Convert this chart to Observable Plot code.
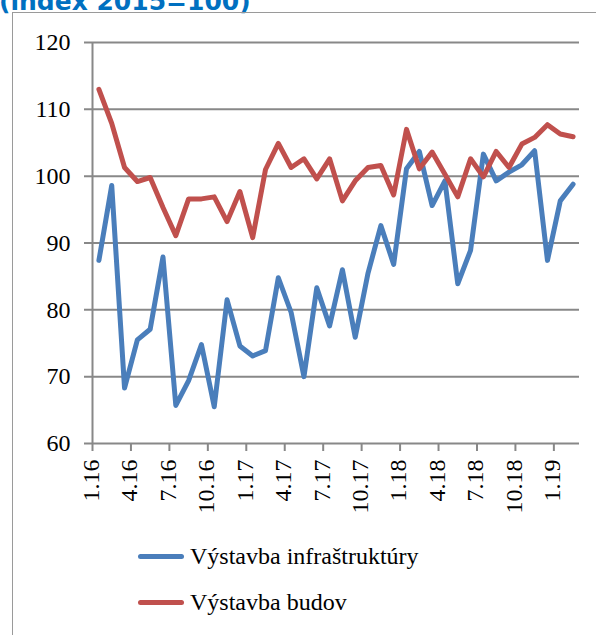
<!DOCTYPE html>
<html>
<head>
<meta charset="utf-8">
<script src="https://cdn.jsdelivr.net/npm/d3@7"></script>
<script src="https://cdn.jsdelivr.net/npm/@observablehq/plot@0.6"></script>
<style>
  html, body { margin: 0; padding: 0; background: #fff; }
  #wrap { position: relative; width: 596px; height: 635px; overflow: hidden; background: #fff; }
  #title { position: absolute; left: -1px; top: -13px; font-family: "DejaVu Sans", sans-serif; font-weight: bold; font-size: 25px; line-height: normal; color: #0070C0; white-space: nowrap; }
  #frameTop { position: absolute; left: 12px; top: 12px; width: 600px; height: 0; border-top: 1.5px solid #9a9a9a; }
  #frameLeft { position: absolute; left: 12px; top: 12px; width: 0; height: 640px; border-left: 1.5px solid #9a9a9a; }
  #chart { position: absolute; left: 0; top: 0; }
  .leg { position: absolute; left: 138px; font-family: "Liberation Serif", "Times New Roman", "DejaVu Serif", serif; font-size: 24px; color: #000; white-space: nowrap; display: flex; align-items: center; }
  .sw { display: inline-block; width: 46px; height: 5px; border-radius: 3px; margin-right: 6px; }
  #chart svg text { font-family: "Liberation Serif", "Times New Roman", "DejaVu Serif", serif !important; }
</style>
</head>
<body>
<div id="wrap">
  <div id="title">(index 2015=100)</div>
  <div id="frameTop"></div>
  <div id="frameLeft"></div>
  <div id="chart"></div>
  <div id="legend"></div>
</div>
<script>
const months = ["1.16","2.16","3.16","4.16","5.16","6.16","7.16","8.16","9.16","10.16","11.16","12.16",
                "1.17","2.17","3.17","4.17","5.17","6.17","7.17","8.17","9.17","10.17","11.17","12.17",
                "1.18","2.18","3.18","4.18","5.18","6.18","7.18","8.18","9.18","10.18","11.18","12.18",
                "1.19","2.19"];
const infra = [87.4, 98.6, 68.3, 75.5, 77.1, 87.9, 65.7, 69.4, 74.8, 65.5, 81.5, 74.6,
               73.1, 73.9, 84.8, 79.6, 70.0, 83.3, 77.6, 86.0, 75.9, 85.5, 92.6, 86.8,
               101.1, 103.7, 95.6, 99.3, 83.9, 88.9, 103.3, 99.3, 100.6, 101.7, 103.8, 87.4,
               96.3, 98.8];
const budov = [113.0, 107.9, 101.3, 99.2, 99.8, 95.3, 91.1, 96.6, 96.6, 96.9, 93.2, 97.7,
               90.8, 101.0, 104.9, 101.3, 102.6, 99.6, 102.6, 96.3, 99.3, 101.3, 101.6, 97.2,
               107.0, 101.1, 103.6, 100.3, 96.9, 102.6, 99.9, 103.7, 101.3, 104.8, 105.8, 107.7,
               106.3, 105.9];
const tickLabels = ["1.16","4.16","7.16","10.16","1.17","4.17","7.17","10.17","1.18","4.18","7.18","10.18","1.19"];
const yTicks = [60, 70, 80, 90, 100, 110, 120];
const seriesNames = ["Výstavba infraštruktúry", "Výstavba budov"];
const colors = ["#4A7EBB", "#C0504D"];

const rows = months.map((m, i) => ({i, m, infra: infra[i], budov: budov[i]}));
const boundaries = tickLabels.map(l => months.indexOf(l));
const font = "'Liberation Serif', 'Times New Roman', serif";
const grid = "#888888";

const chart = Plot.plot({
  width: 596,
  height: 520,
  marginLeft: 92,
  marginRight: 17,
  marginTop: 42,
  marginBottom: 77,
  style: {fontFamily: font, fontSize: "24px", color: "#000", background: "transparent", overflow: "visible"},
  x: {type: "linear", domain: [0, months.length], axis: null},
  y: {domain: [60, 120], axis: null},
  marks: [
    Plot.ruleY(yTicks, {stroke: grid, strokeWidth: 2, insetLeft: -8}),
    Plot.ruleX([0], {stroke: grid, strokeWidth: 2}),
    Plot.axisX(boundaries, {tickSize: 8, tickFormat: () => "", stroke: grid, strokeWidth: 2, anchor: "bottom"}),
    Plot.axisY(yTicks, {tickSize: 0, tickPadding: 22, fontSize: 24, anchor: "left"}),
    Plot.text(tickLabels, {
      x: d => months.indexOf(d) + 0.5,
      frameAnchor: "bottom",
      dy: 16,
      rotate: -90,
      textAnchor: "end",
      fontSize: 24,
      fill: "#000"
    }),
    Plot.line(rows, {x: d => d.i + 0.5, y: "infra", stroke: colors[0], strokeWidth: 5, strokeLinejoin: "round", strokeLinecap: "round"}),
    Plot.line(rows, {x: d => d.i + 0.5, y: "budov", stroke: colors[1], strokeWidth: 5, strokeLinejoin: "round", strokeLinecap: "round"})
  ]
});
document.getElementById("chart").appendChild(chart);

const legend = document.getElementById("legend");
const legendTops = [543, 589];
seriesNames.forEach((name, k) => {
  const d = document.createElement("div");
  d.className = "leg";
  d.style.top = legendTops[k] + "px";
  d.innerHTML = `<span class="sw" style="background:${colors[k]}"></span><span>${name}</span>`;
  legend.appendChild(d);
});
</script>
</body>
</html>
